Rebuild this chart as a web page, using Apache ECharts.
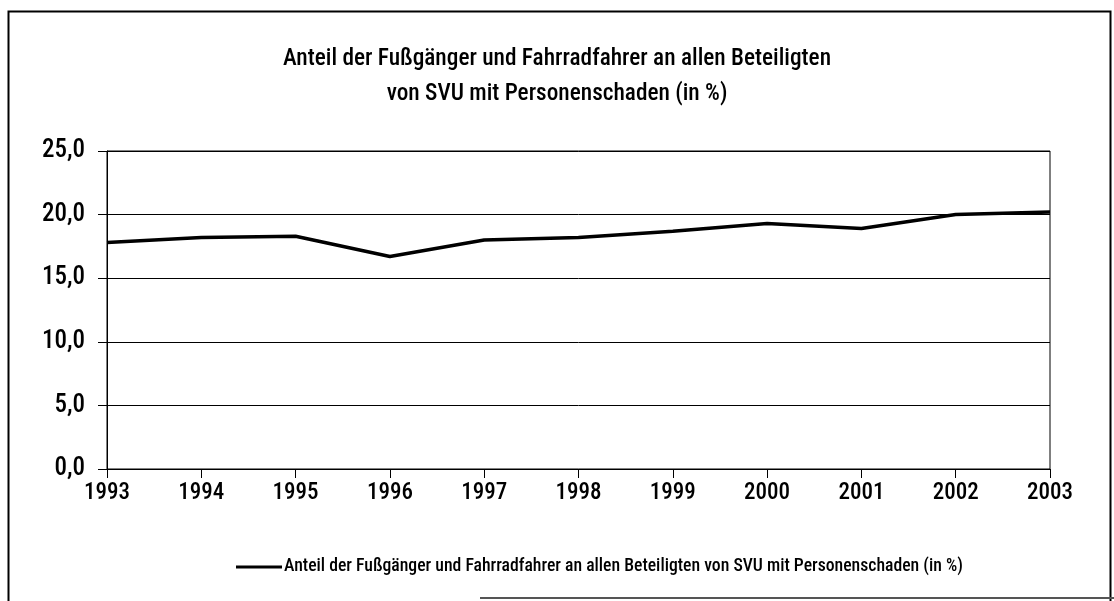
<!DOCTYPE html>
<html>
<head>
<meta charset="utf-8">
<style>
  html, body { margin: 0; padding: 0; background: #fff; }
  #chart { width: 1114px; height: 601px; }
</style>
<script src="https://cdn.jsdelivr.net/npm/echarts@6/dist/echarts.min.js"></script>
</head>
<body>
<div id="chart"></div>
<script>
// data
const years = ['1993', '1994', '1995', '1996', '1997', '1998', '1999', '2000', '2001', '2002', '2003'];
const shares = [17.8, 18.2, 18.3, 16.7, 18.0, 18.2, 18.7, 19.3, 18.9, 20.0, 20.2];
const seriesName = 'Anteil der Fußgänger und Fahrradfahrer an allen Beteiligten von SVU mit Personenschaden (in %)';
const titleLines = ['Anteil der Fußgänger und Fahrradfahrer an allen Beteiligten', 'von SVU mit Personenschaden (in %)'];

const font = '"Roboto Condensed", "Liberation Sans Narrow", sans-serif';

const myChart = echarts.init(document.getElementById('chart'));

const option = {
  backgroundColor: '#fff',
  animation: false,
  textStyle: { fontFamily: font, color: '#000' },
  title: {
    text: titleLines.join('\n'),
    left: 'center',
    top: 37,
    textStyle: { fontFamily: font, fontSize: 23.3, fontWeight: 500, color: '#000', lineHeight: 35 }
  },
  // outer frame
  graphic: [
    {
      type: 'rect',
      shape: { x: 8.5, y: 11.5, width: 1102, height: 600 },
      style: { fill: null, stroke: '#000', lineWidth: 2 }
    },
    {
      type: 'line',
      shape: { x1: 480, y1: 598, x2: 1114, y2: 598 },
      style: { stroke: '#555', lineWidth: 2 }
    }
  ],
  legend: {
    bottom: 20,
    left: 231,
    itemWidth: 46,
    itemHeight: 3,
    icon: 'rect',
    itemGap: 2,
    textStyle: { fontFamily: font, fontSize: 17.7, fontWeight: 500, color: '#000', padding: [0, 0, 0, -3] },
    data: [seriesName]
  },
  grid: {
    left: 107,
    right: 64,
    top: 151,
    bottom: 132,
    show: true,
    borderColor: '#000',
    borderWidth: 1
  },
  xAxis: {
    type: 'category',
    data: years,
    boundaryGap: false,
    axisLine: { lineStyle: { color: '#000', width: 1 } },
    axisTick: { show: true, length: 9, lineStyle: { color: '#000' } },
    axisLabel: { fontFamily: font, fontSize: 23, fontWeight: 500, color: '#000', margin: 13 },
    splitLine: { show: false }
  },
  yAxis: {
    type: 'value',
    min: 0,
    max: 25,
    interval: 5,
    axisLine: { show: true, lineStyle: { color: '#000', width: 1 } },
    axisTick: { show: true, length: 9, lineStyle: { color: '#000' } },
    axisLabel: {
      fontFamily: font,
      fontSize: 25,
      fontWeight: 500,
      color: '#000',
      margin: 22,
      formatter: v => v.toFixed(1).replace('.', ',')
    },
    splitLine: { show: true, lineStyle: { color: '#000', width: 1 } }
  },
  series: [
    {
      name: seriesName,
      type: 'line',
      data: shares,
      showSymbol: false,
      symbol: 'none',
      lineStyle: { color: '#000', width: 3.5 },
      itemStyle: { color: '#000' }
    }
  ]
};

myChart.setOption(option);
window.addEventListener('resize', () => myChart.resize());
</script>
</body>
</html>
